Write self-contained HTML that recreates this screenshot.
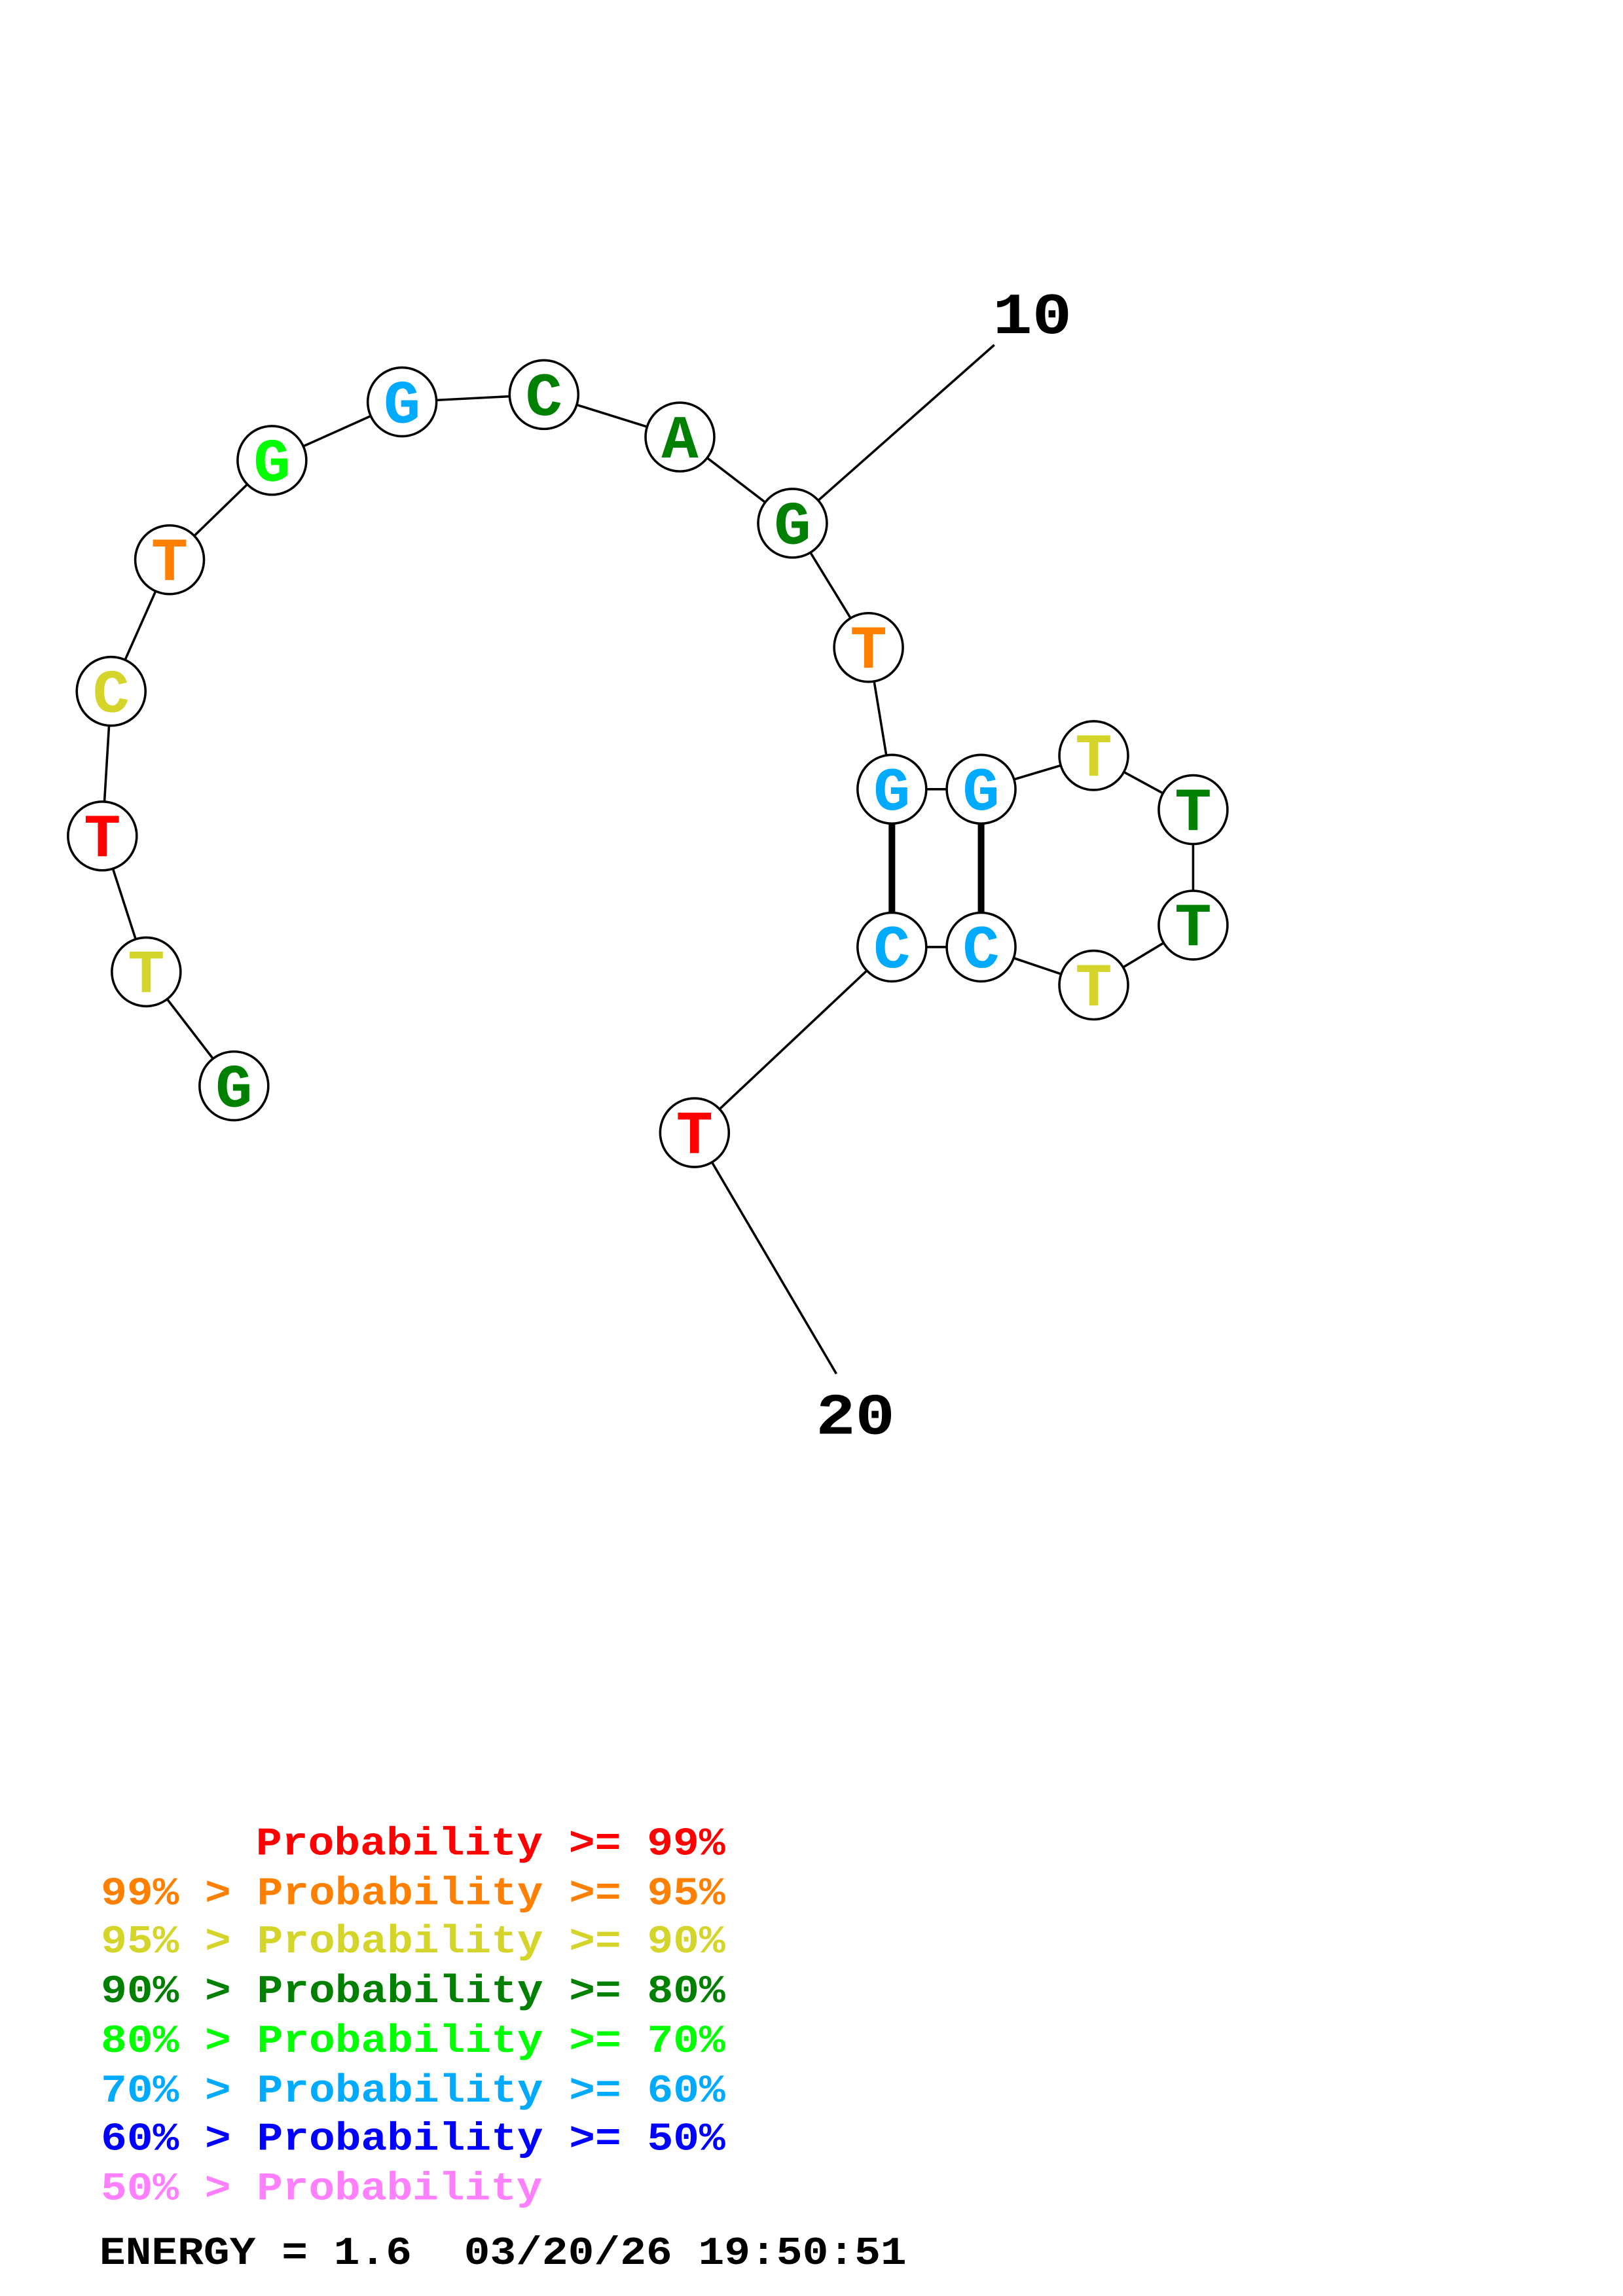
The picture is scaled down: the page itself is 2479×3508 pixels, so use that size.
<!DOCTYPE html>
<html><head><meta charset="utf-8"><style>html,body{margin:0;padding:0;background:#fff}svg{display:block}</style></head>
<body>
<svg width="2479" height="3508" viewBox="0 0 1110 1571" preserveAspectRatio="none" xmlns="http://www.w3.org/2000/svg">
<rect width="1110" height="1571" fill="#fff"/>
<g stroke="#000" stroke-width="1.6" fill="none">
<polyline points="160,743 100,665 70,572 76,473 116,383 186,315 275,275 372,270 465,299 542,358 594,443 610,540 671,540 748,517 816,554 816,633 748,674 671,648 610,648 475,775"/>
<line x1="542" y1="358" x2="680" y2="236"/>
<line x1="475" y1="775" x2="572" y2="940"/>
<line x1="610" y1="540" x2="610" y2="648" stroke-width="4.5"/>
<line x1="671" y1="540" x2="671" y2="648" stroke-width="4.5"/>
</g>
<g stroke="#000" stroke-width="1.6" fill="#fff">
<circle cx="160" cy="743" r="23.5"/><circle cx="100" cy="665" r="23.5"/><circle cx="70" cy="572" r="23.5"/><circle cx="76" cy="473" r="23.5"/><circle cx="116" cy="383" r="23.5"/><circle cx="186" cy="315" r="23.5"/><circle cx="275" cy="275" r="23.5"/><circle cx="372" cy="270" r="23.5"/><circle cx="465" cy="299" r="23.5"/><circle cx="542" cy="358" r="23.5"/><circle cx="594" cy="443" r="23.5"/><circle cx="610" cy="540" r="23.5"/><circle cx="671" cy="540" r="23.5"/><circle cx="748" cy="517" r="23.5"/><circle cx="816" cy="554" r="23.5"/><circle cx="816" cy="633" r="23.5"/><circle cx="748" cy="674" r="23.5"/><circle cx="671" cy="648" r="23.5"/><circle cx="610" cy="648" r="23.5"/><circle cx="475" cy="775" r="23.5"/>
</g>
<g font-family="Liberation Mono, monospace" font-weight="bold" font-size="42" text-anchor="middle">
<text x="160" y="757" fill="#008000">G</text>
<text x="100" y="679" fill="#d4d42a">T</text>
<text x="70" y="586" fill="#ff0000">T</text>
<text x="76" y="487" fill="#d4d42a">C</text>
<text x="116" y="397" fill="#ff8000">T</text>
<text x="186" y="329" fill="#00ff00">G</text>
<text x="275" y="289" fill="#00aaff">G</text>
<text x="372" y="284" fill="#008000">C</text>
<text x="465" y="313" fill="#008000">A</text>
<text x="542" y="372" fill="#008000">G</text>
<text x="594" y="457" fill="#ff8000">T</text>
<text x="610" y="554" fill="#00aaff">G</text>
<text x="671" y="554" fill="#00aaff">G</text>
<text x="748" y="531" fill="#d4d42a">T</text>
<text x="816" y="568" fill="#008000">T</text>
<text x="816" y="647" fill="#008000">T</text>
<text x="748" y="688" fill="#d4d42a">T</text>
<text x="671" y="662" fill="#00aaff">C</text>
<text x="610" y="662" fill="#00aaff">C</text>
<text x="475" y="789" fill="#ff0000">T</text>
</g>
<g font-family="Liberation Mono, monospace" font-weight="bold" font-size="40" fill="#000">
<text x="679" y="228" textLength="54" lengthAdjust="spacingAndGlyphs">10</text>
<text x="558" y="981" textLength="54" lengthAdjust="spacingAndGlyphs">20</text>
</g>
<g font-family="Liberation Mono, monospace" font-weight="bold" font-size="27">
<text x="175" y="1269" fill="#ff0000" textLength="321" lengthAdjust="spacingAndGlyphs">Probability &gt;= 99%</text>
<text x="69" y="1303" fill="#ff8000" textLength="427" lengthAdjust="spacingAndGlyphs">99% &gt; Probability &gt;= 95%</text>
<text x="69" y="1336" fill="#d4d42a" textLength="427" lengthAdjust="spacingAndGlyphs">95% &gt; Probability &gt;= 90%</text>
<text x="69" y="1370" fill="#008000" textLength="427" lengthAdjust="spacingAndGlyphs">90% &gt; Probability &gt;= 80%</text>
<text x="69" y="1404" fill="#00ff00" textLength="427" lengthAdjust="spacingAndGlyphs">80% &gt; Probability &gt;= 70%</text>
<text x="69" y="1438" fill="#00aaff" textLength="427" lengthAdjust="spacingAndGlyphs">70% &gt; Probability &gt;= 60%</text>
<text x="69" y="1471" fill="#0000ff" textLength="427" lengthAdjust="spacingAndGlyphs">60% &gt; Probability &gt;= 50%</text>
<text x="69" y="1505" fill="#ff80ff" textLength="302" lengthAdjust="spacingAndGlyphs">50% &gt; Probability</text>
<text x="68" y="1549" fill="#000" textLength="552" lengthAdjust="spacingAndGlyphs">ENERGY = 1.6 &#160;03/20/26 19:50:51</text>
</g>
</svg>
</body></html>
